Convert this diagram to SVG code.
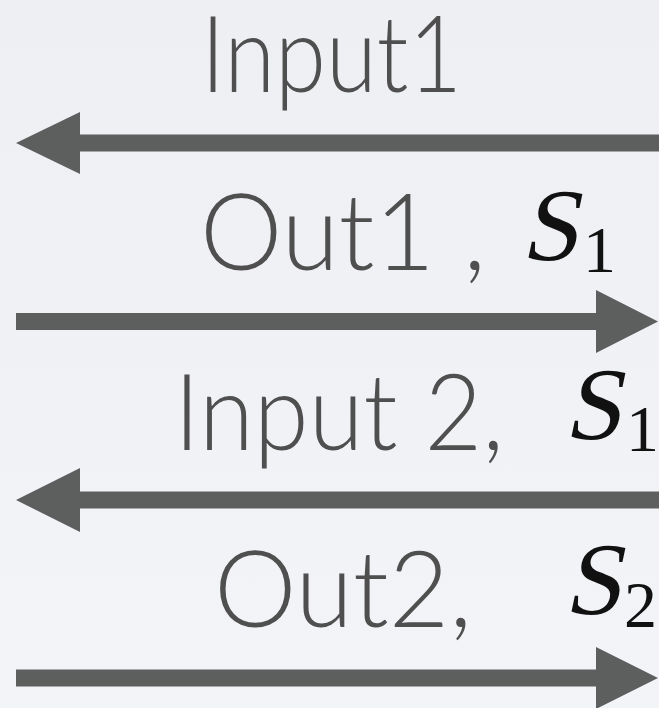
<svg xmlns="http://www.w3.org/2000/svg" width="659" height="708" viewBox="0 0 659 708">
  <defs>
    <linearGradient id="bg" x1="0" y1="0" x2="0" y2="1">
      <stop offset="0" stop-color="#eeeff3"/>
      <stop offset="1" stop-color="#f3f4f7"/>
    </linearGradient>
    <style>
      .lbl { font-family: Lato, "Open Sans", "Liberation Sans", sans-serif; font-weight: 300; font-size: 107px; fill: #4f4f4f; }
      .mi { font-family: "Liberation Serif", "DejaVu Serif", serif; font-size: 103px; fill: #111; }
      .sub { font-family: "Liberation Serif", "DejaVu Serif", serif; font-size: 66px; fill: #111; }
      .arrow { fill: #5c5f5e; }
    </style>
  </defs>
  <rect width="659" height="708" fill="url(#bg)"/>

  <g id="connectors">
    <path class="arrow" d="M16,143 L80,112 L80,134.5 L659,134.5 L659,151.5 L80,151.5 L80,174 Z"/>
    <path class="arrow" d="M658,321.5 L596,290 L596,313 L16,313 L16,330 L596,330 L596,353 Z"/>
    <path class="arrow" d="M16,500 L80,468 L80,491.5 L659,491.5 L659,508.5 L80,508.5 L80,532 Z"/>
    <path class="arrow" d="M658,678 L596,647 L596,669.5 L16,669.5 L16,686.5 L596,686.5 L596,709 Z"/>
  </g>

  <g id="label-input1">
    <text class="lbl" x="201" y="92" textLength="261" lengthAdjust="spacingAndGlyphs">Input1</text>
  </g>
  <g id="label-out1">
    <text class="lbl" x="200" y="270" textLength="286" lengthAdjust="spacingAndGlyphs">Out1 ,</text>
    <text class="mi" transform="translate(521,260) skewX(-12)">S</text>
    <text class="sub" x="583" y="272">1</text>
  </g>
  <g id="label-input2">
    <text class="lbl" x="174" y="450" textLength="330" lengthAdjust="spacingAndGlyphs">Input 2,</text>
    <text class="mi" transform="translate(564,439) skewX(-12)">S</text>
    <text class="sub" x="626" y="451">1</text>
  </g>
  <g id="label-out2">
    <text class="lbl" x="214" y="627" textLength="258" lengthAdjust="spacingAndGlyphs">Out2,</text>
    <text class="mi" transform="translate(564,614) skewX(-12)">S</text>
    <text class="sub" x="624" y="627">2</text>
  </g>
</svg>
